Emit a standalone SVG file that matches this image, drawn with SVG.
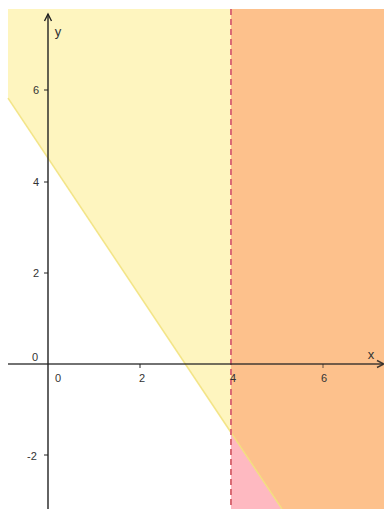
<svg xmlns="http://www.w3.org/2000/svg" width="384" height="509" viewBox="0 0 384 509">
<style>
.lbl{font-family:"Liberation Sans",Arial,sans-serif;font-size:11px;fill:#333;text-anchor:middle;dominant-baseline:central}
.axl{font-size:13px}
.ax{stroke:#222;stroke-width:1.4;fill:none}
.tk{stroke:#222;stroke-width:1}
</style>
<rect width="384" height="509" fill="#ffffff"/>
<g id="regions">
<polygon points="8,9 231,9 231,432.7 8,98.1" fill="#fef5bf"/>
<polygon points="231,9 384,9 384,509 282,509 231,432.7" fill="#fdc18c"/>
<polygon points="231,432.7 282,509 231,509" fill="#feb9c1"/>
</g>
<g id="boundaries">
<line x1="8" y1="98.1" x2="282" y2="509" stroke="#f2e27a" stroke-width="1.6" opacity="0.85"/>
<line x1="231" y1="9" x2="231" y2="509" stroke="#d96a74" stroke-width="2" stroke-dasharray="6,4"/>
</g>
<g id="axes">
<line class="ax" x1="48" y1="14" x2="48" y2="509"/>
<polyline class="ax" points="44.5,21 48,14 51.5,21"/>
<line class="ax" x1="8" y1="364" x2="383" y2="364" stroke="#444" opacity="0.85"/>
<polyline class="ax" points="377,360.5 384,364 377,367.5" opacity="0.85"/>
<line class="tk" x1="44" y1="90" x2="48" y2="90"/>
<line class="tk" x1="44" y1="182" x2="48" y2="182"/>
<line class="tk" x1="44" y1="273" x2="48" y2="273"/>
<line class="tk" x1="44" y1="455" x2="48" y2="455"/>
<line class="tk" x1="140" y1="364" x2="140" y2="368"/>
<line class="tk" x1="323" y1="364" x2="323" y2="368" opacity="0.7"/>
</g>
<g id="labels">
<text class="lbl axl" x="58" y="31">y</text>
<text class="lbl axl" x="371" y="354">x</text>
<text class="lbl" x="36" y="90">6</text>
<text class="lbl" x="36" y="182">4</text>
<text class="lbl" x="36" y="273">2</text>
<text class="lbl" x="35" y="357">0</text>
<text class="lbl" x="32" y="456">-2</text>
<text class="lbl" x="58" y="378">0</text>
<text class="lbl" x="142" y="378">2</text>
<text class="lbl" x="233" y="378">4</text>
<text class="lbl" x="324" y="378">6</text>
</g>
</svg>
